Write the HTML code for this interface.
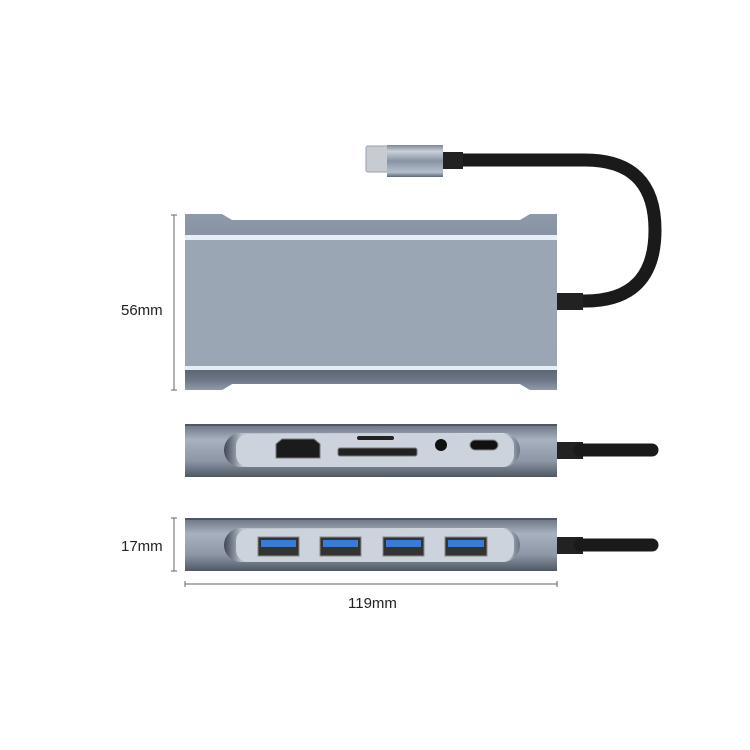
<!DOCTYPE html>
<html><head><meta charset="utf-8"><style>
html,body{margin:0;padding:0;background:#fff;}
svg{display:block}
text{font-family:"Liberation Sans",sans-serif;font-size:15px;fill:#222}
</style></head><body>
<svg width="750" height="750" viewBox="0 0 750 750">
<defs>
<linearGradient id="rimT" x1="0" y1="0" x2="0" y2="1">
<stop offset="0" stop-color="#8e99a9"/><stop offset="0.6" stop-color="#6d7787"/><stop offset="1" stop-color="#5c6574"/></linearGradient>
<linearGradient id="rimB" x1="0" y1="0" x2="0" y2="1">
<stop offset="0" stop-color="#5c6574"/><stop offset="0.5" stop-color="#6d7787"/><stop offset="1" stop-color="#8e99a9"/></linearGradient>
<linearGradient id="side" x1="0" y1="0" x2="0" y2="1">
<stop offset="0" stop-color="#6a7382"/><stop offset="0.3" stop-color="#a8b1bf"/><stop offset="0.7" stop-color="#8c96a5"/><stop offset="1" stop-color="#4f5764"/></linearGradient>
<linearGradient id="rec" x1="0" y1="0" x2="1" y2="0">
<stop offset="0" stop-color="#3f4654"/><stop offset="0.06" stop-color="#b9c1cc"/><stop offset="0.94" stop-color="#d4dae2"/><stop offset="1" stop-color="#6a7382"/></linearGradient>
<linearGradient id="metal" x1="0" y1="0" x2="0" y2="1">
<stop offset="0" stop-color="#7e8898"/><stop offset="0.2" stop-color="#c9d0da"/><stop offset="0.5" stop-color="#8792a2"/><stop offset="0.85" stop-color="#b6bfcb"/><stop offset="1" stop-color="#5f6878"/></linearGradient>
</defs>

<!-- top view body -->
<path d="M185 214 H222 L232 220 H520 L530 214 H557 V390 H530 L520 384 H232 L222 390 H185 Z" fill="url(#rimT)"/>
<rect x="185" y="240" width="372" height="126" fill="#9ba6b5"/>
<rect x="185" y="235" width="372" height="5" fill="#e6edf5"/>
<rect x="185" y="366" width="372" height="4" fill="#e6edf5"/>
<path d="M185 370 H557 V390 H530 L520 384 H232 L222 390 H185 Z" fill="url(#rimB)"/>

<!-- cable -->
<path d="M455 160 H585 Q655 160 655 230 Q655 301 585 301 H570" fill="none" stroke="#1a1a1a" stroke-width="13"/>
<rect x="557" y="293" width="26" height="17" fill="#222"/>
<rect x="443" y="152" width="20" height="17" fill="#222"/>
<rect x="366" y="146" width="22" height="26" rx="2" fill="#c7ccd3" stroke="#9aa2ad"/>
<rect x="387" y="145" width="56" height="32" fill="url(#metal)"/>

<!-- dimension lines -->
<g stroke="#666" stroke-width="1">
<line x1="174" y1="215" x2="174" y2="390"/><line x1="171" y1="215" x2="177" y2="215"/><line x1="171" y1="390" x2="177" y2="390"/>
<line x1="174" y1="518" x2="174" y2="571"/><line x1="171" y1="518" x2="177" y2="518"/><line x1="171" y1="571" x2="177" y2="571"/>
<line x1="185" y1="584" x2="557" y2="584"/><line x1="185" y1="581" x2="185" y2="587"/><line x1="557" y1="581" x2="557" y2="587"/>
</g>
<text x="121" y="315">56mm</text>
<text x="121" y="551">17mm</text>
<text x="348" y="608">119mm</text>

<!-- side view 1 -->
<rect x="557" y="442" width="26" height="17" fill="#222"/>
<path d="M580 450 H652" stroke="#1a1a1a" stroke-width="13" stroke-linecap="round"/>
<rect x="185" y="424" width="372" height="53" fill="url(#side)"/>
<rect x="185" y="424" width="372" height="2" fill="#4f5764"/>
<rect x="224" y="433" width="296" height="34" rx="17" fill="url(#rec)"/>
<rect x="236" y="434" width="278" height="33" rx="12" fill="#cdd3dc"/>
<path d="M276 444 L282 439 H314 L320 444 V458 H276 Z" fill="#1b1b1b" stroke="#777"/>
<rect x="357" y="436" width="37" height="4" rx="2" fill="#222"/>
<rect x="338" y="448" width="79" height="8" rx="2" fill="#222" stroke="#777"/>
<circle cx="441" cy="445" r="6" fill="#111"/>
<rect x="470" y="440" width="28" height="10" rx="5" fill="#111" stroke="#888"/>

<!-- side view 2 -->
<rect x="557" y="537" width="26" height="17" fill="#222"/>
<path d="M580 545 H652" stroke="#1a1a1a" stroke-width="13" stroke-linecap="round"/>
<rect x="185" y="518" width="372" height="53" fill="url(#side)"/>
<rect x="185" y="518" width="372" height="2" fill="#4f5764"/>
<rect x="224" y="528" width="296" height="34" rx="17" fill="url(#rec)"/>
<rect x="236" y="529" width="278" height="33" rx="12" fill="#cdd3dc"/>
<g>
<rect x="258" y="537" width="41" height="19" fill="#333" stroke="#888"/><rect x="261" y="540" width="35" height="7" fill="#3a7bd5"/>
<rect x="320" y="537" width="41" height="19" fill="#333" stroke="#888"/><rect x="323" y="540" width="35" height="7" fill="#3a7bd5"/>
<rect x="383" y="537" width="41" height="19" fill="#333" stroke="#888"/><rect x="386" y="540" width="35" height="7" fill="#3a7bd5"/>
<rect x="445" y="537" width="42" height="19" fill="#333" stroke="#888"/><rect x="448" y="540" width="36" height="7" fill="#3a7bd5"/>
</g>
</svg>
</body></html>
